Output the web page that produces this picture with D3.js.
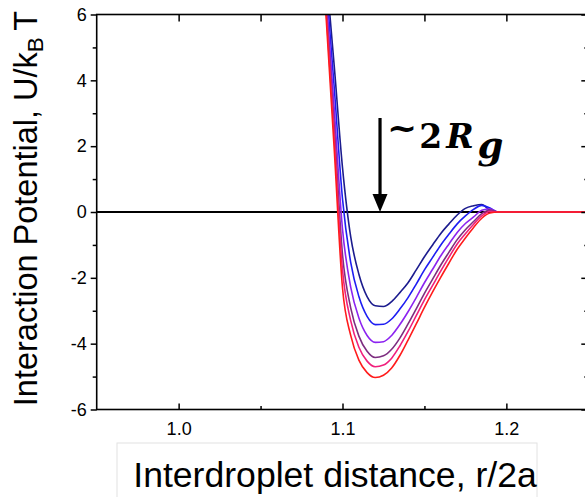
<!DOCTYPE html>
<html>
<head>
<meta charset="utf-8">
<script src="https://cdn.jsdelivr.net/npm/d3@7"></script>
<style>
  html, body { margin: 0; padding: 0; background: #fff; }
  svg { display: block; }
</style>
</head>
<body>
<svg id="chart" width="585" height="497"></svg>
<script>
// Interdroplet distance r/2a (shared sampling grid)
const distance = [1.087, 1.090, 1.095, 1.100, 1.105, 1.110, 1.115, 1.120, 1.125, 1.130,
                  1.135, 1.140, 1.145, 1.150, 1.155, 1.160, 1.165, 1.170, 1.175, 1.180,
                  1.185, 1.190, 1.195, 1.250];

// Interaction potential U/kBT for each curve (shallowest to deepest well)
const uNavy   = [9.00, 7.33, 4.41, 1.35, -0.75, -1.89, -2.57, -2.85, -2.87, -2.72,
                 -2.45, -2.15, -1.76, -1.36, -1.00, -0.65, -0.36, -0.09, 0.11, 0.19,
                 0.23, 0.05, 0, 0];
const uBlue   = [8.83, 6.96, 3.75, 0.40, -1.53, -2.57, -3.17, -3.42, -3.41, -3.25,
                 -2.95, -2.60, -2.19, -1.76, -1.38, -1.00, -0.67, -0.36, -0.12, 0.08,
                 0.20, 0.12, 0, 0];
const uViolet = [8.67, 6.61, 3.11, -0.52, -2.28, -3.22, -3.75, -3.96, -3.94, -3.75,
                 -3.42, -3.03, -2.60, -2.15, -1.74, -1.33, -0.97, -0.62, -0.35, -0.15,
                 0.05, 0.10, 0, 0];
const uPurple = [8.53, 6.31, 2.57, -1.29, -2.91, -3.77, -4.23, -4.42, -4.37, -4.17,
                 -3.83, -3.40, -2.94, -2.47, -2.04, -1.61, -1.22, -0.84, -0.54, -0.29,
                 -0.05, 0.06, 0, 0];
const uPink   = [8.45, 6.13, 2.24, -1.76, -3.30, -4.11, -4.53, -4.70, -4.65, -4.44,
                 -4.07, -3.63, -3.15, -2.67, -2.23, -1.79, -1.37, -0.97, -0.66, -0.37,
                 -0.12, 0.02, 0, 0];
const uRed    = [8.35, 5.92, 1.86, -2.31, -3.75, -4.50, -4.88, -5.03, -4.96, -4.74,
                 -4.36, -3.89, -3.40, -2.90, -2.43, -1.98, -1.55, -1.13, -0.79, -0.47,
                 -0.19, -0.03, 0, 0];

const seriesValues = [uNavy, uBlue, uViolet, uPurple, uPink, uRed];
const seriesColors = ["#1c1c8e", "#1e1ef2", "#8c24f0", "#7e2e80", "#f0207c", "#ff1c1c"];

// Axis ticks
const xMajorTicks = [1.0, 1.1, 1.2];
const xMinorTicks = [1.05, 1.15];
const yMajorTicks = [-6, -4, -2, 0, 2, 4, 6];
const yMinorTicks = [-5, -3, -1, 1, 3, 5];

// Annotation position (arrow at the well minimum)
const arrowX = 1.1229;

const svg = d3.select("#chart");
const plotLeft = 96.7, plotRight = 588.3, plotTop = 14.5, plotBottom = 409.5;

const x = d3.scaleLinear().domain([0.95, 1.25]).range([plotLeft, plotRight]);
const y = d3.scaleLinear().domain([-6, 6]).range([plotBottom, plotTop]);

const font = "'Liberation Sans', Arial, sans-serif";

svg.append("defs").append("clipPath").attr("id", "plotClip")
  .append("rect").attr("x", plotLeft).attr("y", plotTop)
  .attr("width", plotRight - plotLeft).attr("height", plotBottom - plotTop);

// Zero reference line
svg.append("line")
  .attr("x1", plotLeft).attr("x2", plotRight)
  .attr("y1", y(0)).attr("y2", y(0))
  .attr("stroke", "#000").attr("stroke-width", 2);

// Potential curves
const line = d3.line()
  .x((d, i) => x(distance[i]))
  .y(d => y(d))
  .curve(d3.curveMonotoneX);

svg.append("g").attr("clip-path", "url(#plotClip)")
  .selectAll("path")
  .data(seriesValues)
  .join("path")
  .attr("d", d => line(d))
  .attr("fill", "none")
  .attr("stroke", (d, i) => seriesColors[i])
  .attr("stroke-width", 1.6)
  .attr("stroke-linejoin", "round");

// Axes
function styleAxis(g) {
  g.select(".domain").remove();
  g.selectAll(".tick line").attr("stroke", "#000").attr("stroke-width", 1.5);
  g.selectAll("text").attr("font-family", font).attr("font-size", 18).attr("fill", "#000");
}

svg.append("g").attr("transform", `translate(0,${plotBottom})`)
  .call(d3.axisBottom(x).tickValues(xMajorTicks).tickSize(-6).tickPadding(12.5)
    .tickFormat(d => d.toFixed(1)))
  .call(styleAxis);
svg.append("g").attr("transform", `translate(0,${plotBottom})`)
  .call(d3.axisBottom(x).tickValues(xMinorTicks).tickSize(-3.5).tickFormat(""))
  .call(styleAxis);

svg.append("g").attr("transform", `translate(0,${plotTop})`)
  .call(d3.axisTop(x).tickValues(xMajorTicks).tickSize(-7).tickFormat(""))
  .call(styleAxis);
svg.append("g").attr("transform", `translate(0,${plotTop})`)
  .call(d3.axisTop(x).tickValues(xMinorTicks).tickSize(-7).tickFormat(""))
  .call(styleAxis);

svg.append("g").attr("transform", `translate(${plotLeft},0)`)
  .call(d3.axisLeft(y).tickValues(yMajorTicks).tickSize(6).tickPadding(4)
    .tickFormat(d => String(d)))
  .call(styleAxis);
svg.append("g").attr("transform", `translate(${plotLeft},0)`)
  .call(d3.axisLeft(y).tickValues(yMinorTicks).tickSize(4).tickFormat(""))
  .call(styleAxis);

svg.append("g").attr("transform", `translate(${plotRight},0)`)
  .call(d3.axisRight(y).tickValues(yMajorTicks).tickSize(-7).tickFormat(""))
  .call(styleAxis);
svg.append("g").attr("transform", `translate(${plotRight},0)`)
  .call(d3.axisRight(y).tickValues(yMinorTicks).tickSize(-4).tickFormat(""))
  .call(styleAxis);

// Frame
svg.append("rect")
  .attr("x", plotLeft).attr("y", plotTop)
  .attr("width", plotRight - plotLeft).attr("height", plotBottom - plotTop)
  .attr("fill", "none").attr("stroke", "#000").attr("stroke-width", 1.6);

// Y axis title
const yTitle = svg.append("text")
  .attr("transform", "translate(37,208.5) rotate(-90)")
  .attr("text-anchor", "middle")
  .attr("font-family", font).attr("font-size", 32.5).attr("fill", "#000");
yTitle.append("tspan").text("Interaction Potential, U/k");
yTitle.append("tspan").attr("font-size", 22.5).attr("dy", 6).text("B");
yTitle.append("tspan").attr("dy", -6).text("\u2009T");

// X axis title with its box
svg.append("rect")
  .attr("x", 117).attr("y", 443).attr("width", 420).attr("height", 60)
  .attr("fill", "#fff").attr("stroke", "#e2e2e2").attr("stroke-width", 1);
svg.append("text")
  .attr("x", 335).attr("y", 487)
  .attr("text-anchor", "middle")
  .attr("font-family", font).attr("font-size", 35.6).attr("fill", "#000")
  .text("Interdroplet distance, r/2a");

// Arrow marking ~2Rg
const ax = x(arrowX);
const tipY = y(0);
svg.append("line")
  .attr("x1", ax).attr("x2", ax)
  .attr("y1", 118).attr("y2", tipY - 16)
  .attr("stroke", "#000").attr("stroke-width", 3.2);
svg.append("path")
  .attr("d", `M${ax - 7.5},${tipY - 18} L${ax + 7.5},${tipY - 18} L${ax},${tipY} Z`)
  .attr("fill", "#000");

const serif = "'DejaVu Serif', serif";
const ann = svg.append("text")
  .attr("x", ax + 7).attr("y", 148)
  .attr("font-family", serif).attr("font-weight", "bold")
  .attr("font-size", 33).attr("fill", "#000");
ann.append("tspan").attr("font-size", 36).attr("dy", -8).text("~");
ann.append("tspan").attr("dy", 8).attr("dx", 2).text("2");
ann.append("tspan").attr("font-style", "italic").attr("dx", 4).text("R");
ann.append("tspan").attr("font-style", "italic").attr("font-size", 37).attr("dx", 4).attr("dy", 10).text("g");
</script>
</body>
</html>
